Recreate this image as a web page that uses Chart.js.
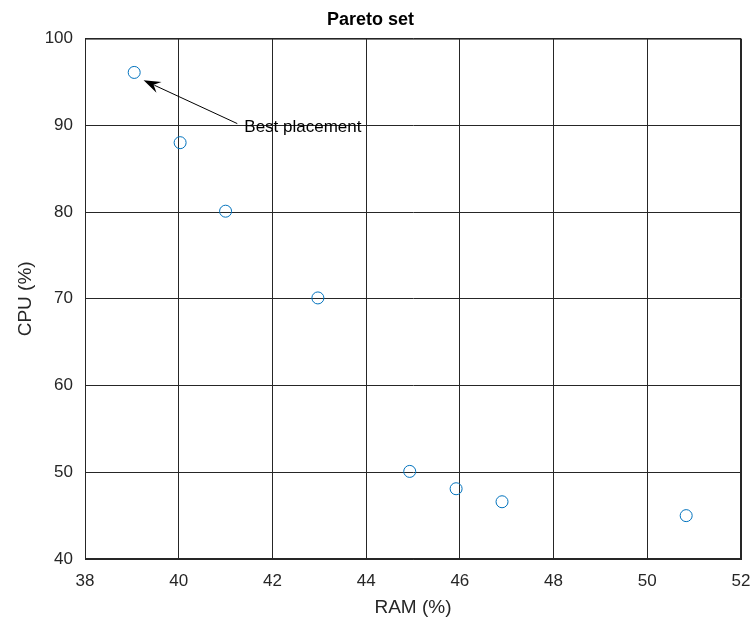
<!DOCTYPE html>
<html>
<head>
<meta charset="utf-8">
<script src="https://cdn.jsdelivr.net/npm/chart.js@4"></script>
<style>
  html, body { margin:0; padding:0; background:#fff; }
  #wrap { width:756px; height:628px; position:relative; }
</style>
</head>
<body>
<div id="wrap"><canvas id="c" width="756" height="628"></canvas></div>
<script>
// RAM / CPU values of the Pareto set
const ramVals = [39.05, 40.03, 41.0, 42.97, 44.93, 45.92, 46.9, 50.83];
const cpuVals = [96.1, 88.0, 80.1, 70.1, 50.1, 48.1, 46.6, 45.0];
const xTicks = [38, 40, 42, 44, 46, 48, 50, 52];
const yTicks = [40, 50, 60, 70, 80, 90, 100];

// annotation: text anchor and arrow (in data units)
const noteText = 'Best placement';
const noteAt = [41.4, 89.8];
const arrowFrom = [41.25, 90.2];
const arrowTo = [39.25, 95.2];

const FONT = 'Arial, "Liberation Sans", Helvetica, sans-serif';
const INK = '#262626';

const points = ramVals.map((x, i) => ({ x: x, y: cpuVals[i] }));

const annotate = {
    id: 'annotate',
    afterDatasetsDraw(chart) {
        const ctx = chart.ctx, xs = chart.scales.x, ys = chart.scales.y;
        const x0 = xs.getPixelForValue(arrowFrom[0]), y0 = ys.getPixelForValue(arrowFrom[1]);
        const x1 = xs.getPixelForValue(arrowTo[0]), y1 = ys.getPixelForValue(arrowTo[1]);
        const ang = Math.atan2(y1 - y0, x1 - x0);
        const len = 17, half = 6;
        ctx.save();
        ctx.strokeStyle = '#000';
        ctx.fillStyle = '#000';
        ctx.lineWidth = 1;
        ctx.beginPath();
        ctx.moveTo(x0, y0);
        ctx.lineTo(x1 - Math.cos(ang) * len * 0.7, y1 - Math.sin(ang) * len * 0.7);
        ctx.stroke();
        // arrow head
        const bx = x1 - Math.cos(ang) * len, by = y1 - Math.sin(ang) * len;
        ctx.beginPath();
        ctx.moveTo(x1, y1);
        ctx.lineTo(bx + Math.sin(ang) * half, by - Math.cos(ang) * half);
        ctx.lineTo(x1 - Math.cos(ang) * len * 0.65, y1 - Math.sin(ang) * len * 0.65);
        ctx.lineTo(bx - Math.sin(ang) * half, by + Math.cos(ang) * half);
        ctx.closePath();
        ctx.fill();
        ctx.font = '17px ' + FONT;
        ctx.textBaseline = 'middle';
        ctx.textAlign = 'left';
        ctx.fillText(noteText, xs.getPixelForValue(noteAt[0]), ys.getPixelForValue(noteAt[1]));
        // box outline
        const a = chart.chartArea;
        ctx.strokeStyle = INK;
        ctx.strokeRect(a.left + 0.5, a.top + 0.5, a.right - a.left - 1, a.bottom - a.top - 1);
        ctx.restore();
    }
};

new Chart(document.getElementById('c'), {
    type: 'scatter',
    data: {
        datasets: [{
            data: points,
            pointStyle: 'circle',
            pointRadius: 6,
            pointHoverRadius: 6,
            borderColor: '#0072BD',
            backgroundColor: 'rgba(0,0,0,0)',
            borderWidth: 1
        }]
    },
    options: {
        responsive: false,
        animation: false,
        devicePixelRatio: 1,
        layout: { padding: { top: 0, right: 15, bottom: 0, left: 0 } },
        plugins: {
            legend: { display: false },
            tooltip: { enabled: false },
            title: {
                display: true,
                text: 'Pareto set',
                color: '#000',
                font: { family: FONT, size: 18, weight: 'bold' },
                padding: { top: 9, bottom: 8 }
            }
        },
        scales: {
            x: {
                type: 'linear',
                min: xTicks[0], max: xTicks[xTicks.length - 1],
                afterBuildTicks: s => { s.ticks = xTicks.map(v => ({ value: v })); },
                grid: { color: INK, lineWidth: 1, drawTicks: false },
                border: { color: INK },
                ticks: { color: INK, font: { family: FONT, size: 17 }, padding: 12, maxRotation: 0 },
                title: { display: true, text: 'RAM (%)', color: INK, font: { family: FONT, size: 19 }, padding: { top: 2, bottom: 9 } },
                afterFit: s => { s.height = 69; s.paddingLeft = 0; s.paddingRight = 0; }
            },
            y: {
                type: 'linear',
                min: yTicks[0], max: yTicks[yTicks.length - 1],
                afterBuildTicks: s => { s.ticks = yTicks.map(v => ({ value: v })); },
                grid: { color: INK, lineWidth: 1, drawTicks: false },
                border: { color: INK },
                ticks: { color: INK, font: { family: FONT, size: 17 }, padding: 12 },
                title: { display: true, text: 'CPU (%)', color: INK, font: { family: FONT, size: 19 }, padding: { top: 14, bottom: 4 } },
                afterFit: s => { s.width = 85; s.paddingTop = 0; s.paddingBottom = 0; }
            }
        }
    },
    plugins: [annotate]
});
</script>
</body>
</html>
